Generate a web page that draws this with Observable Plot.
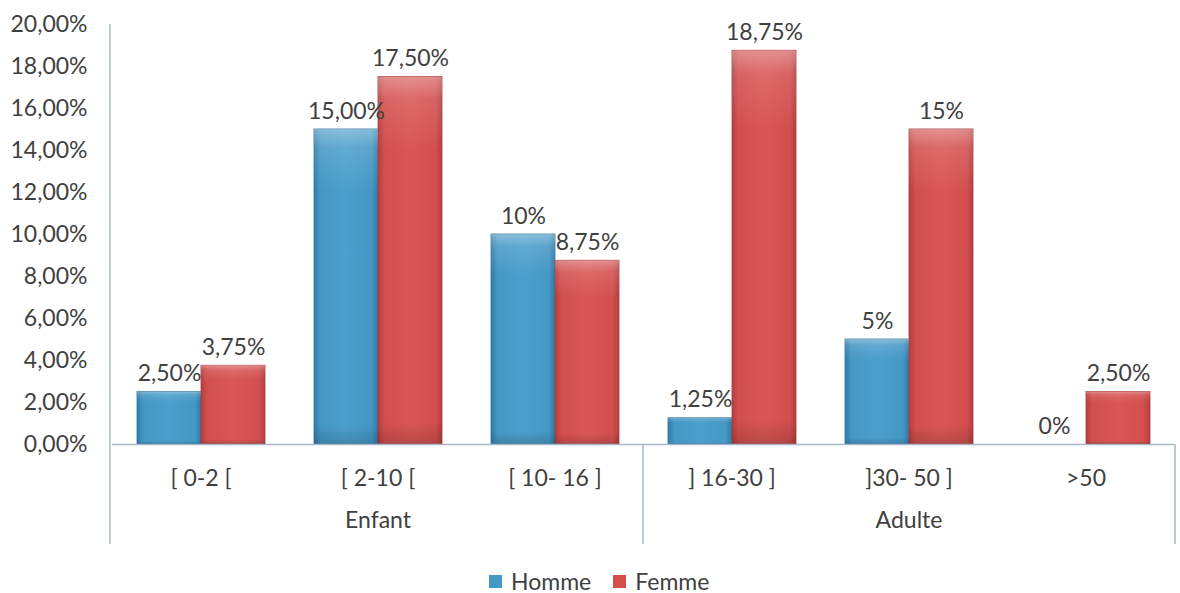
<!DOCTYPE html>
<html>
<head>
<meta charset="utf-8">
<script src="https://cdn.jsdelivr.net/npm/d3@7"></script>
<script src="https://cdn.jsdelivr.net/npm/@observablehq/plot@0.6"></script>
<style>
  body { margin: 0; background: #ffffff; }
  #wrap { position: relative; width: 1180px; height: 593px; font-family: Lato, "Open Sans", sans-serif; color: #3f3f3f; }
  #legend { position: absolute; left: 489px; top: 568px; font-size: 23px; line-height: 26px; display: flex; align-items: center; white-space: nowrap; }
  .sw { display: inline-block; width: 13px; height: 13px; margin-right: 9px; }
  .item { display: inline-flex; align-items: center; margin-right: 22px; }
</style>
</head>
<body>
<div id="wrap">
  <div id="chart"></div>
  <div id="legend"></div>
</div>
<script>
// Age classes, their age group, and share of cases (%) by sex
const categories = ["[ 0-2 [", "[ 2-10 [", "[ 10- 16 ]", "] 16-30 ]", "]30- 50 ]", ">50"];
const groups = ["Enfant", "Enfant", "Enfant", "Adulte", "Adulte", "Adulte"];
const series = ["Homme", "Femme"];
const homme = [2.5, 15, 10, 1.25, 5, 0];
const femme = [3.75, 17.5, 8.75, 18.75, 15, 2.5];
const hommeLabels = ["2,50%", "15,00%", "10%", "1,25%", "5%", "0%"];
const femmeLabels = ["3,75%", "17,50%", "8,75%", "18,75%", "15%", "2,50%"];
const yTicks = [0, 2, 4, 6, 8, 10, 12, 14, 16, 18, 20];

const colors = { Homme: "#4597c4", Femme: "#d24f4e" };

const rows = [];
categories.forEach((c, i) => {
  rows.push({ cat: c, sex: "Homme", value: homme[i], label: hommeLabels[i] });
  rows.push({ cat: c, sex: "Femme", value: femme[i], label: femmeLabels[i] });
});

// one label per age group, placed under the middle class of the group
const groupLabels = [...new Set(groups)].map(g => {
  const idx = groups.map((x, i) => x === g ? i : -1).filter(i => i >= 0);
  return { cat: categories[idx[Math.floor(idx.length / 2)]], text: g };
});

const fmt = v => v.toFixed(2).replace(".", ",") + "%";

const chart = Plot.plot({
  width: 1180,
  height: 560,
  marginLeft: 110,
  marginRight: 5,
  marginTop: 24,
  marginBottom: 116,
  style: { fontFamily: "Lato, 'Open Sans', sans-serif", fontSize: "23px", color: "#3f3f3f", background: "#ffffff" },
  fx: { domain: categories, padding: 0, axis: null },
  x: { domain: series, paddingInner: 0, paddingOuter: 0.365, axis: null },
  y: { domain: [0, 20], ticks: yTicks, tickFormat: fmt, tickSize: 0, tickPadding: 25, label: null },
  marks: [
    Plot.barY(rows.filter(d => d.sex === "Homme"), { fx: "cat", x: "sex", y: "value", fill: "url(#gradHomme)", stroke: "#2f759f", strokeWidth: 0.8 }),
    Plot.barY(rows.filter(d => d.sex === "Femme"), { fx: "cat", x: "sex", y: "value", fill: "url(#gradFemme)", stroke: "#a83a3a", strokeWidth: 0.8 }),
    Plot.barY(rows.filter(d => d.value > 0), { fx: "cat", x: "sex", y: "value", fill: "url(#gradShine)" }),
    Plot.ruleY([0], { stroke: "#a9b9c9", strokeWidth: 1.5 }),
    Plot.text(rows, { fx: "cat", x: "sex", y: "value", text: "label", lineAnchor: "bottom", dy: -11, fill: "#3f3f3f" }),
    Plot.text(categories, { fx: d => d, text: d => d, frameAnchor: "bottom", dy: 41, fill: "#3f3f3f" }),
    Plot.text(groupLabels, { fx: "cat", text: "text", frameAnchor: "bottom", dy: 83, fill: "#3f3f3f" })
  ]
});

document.getElementById("chart").appendChild(chart);

// bar gradients and the axis / group separator lines
const svg = d3.select(chart.tagName.toLowerCase() === "svg" ? chart : chart.querySelector("svg"));
const defs = svg.insert("defs", ":first-child");
function hGrad(id, edge, mid, center) {
  const g = defs.append("linearGradient").attr("id", id).attr("x1", 0).attr("x2", 1).attr("y1", 0).attr("y2", 0);
  [[0, edge], [0.1, mid], [0.5, center], [0.9, mid], [1, edge]].forEach(([o, c]) =>
    g.append("stop").attr("offset", o).attr("stop-color", c));
}
hGrad("gradHomme", "#2e7cab", "#4597c4", "#4c9fcc");
hGrad("gradFemme", "#b53f3f", "#d24f4e", "#d85756");
const shine = defs.append("linearGradient").attr("id", "gradShine").attr("x1", 0).attr("x2", 0).attr("y1", 0).attr("y2", 1);
[[0, "#ffffff", 0.35], [0.06, "#ffffff", 0.12], [0.2, "#ffffff", 0], [0.94, "#000000", 0], [1, "#000000", 0.15]].forEach(([o, c, a]) =>
  shine.append("stop").attr("offset", o).attr("stop-color", c).attr("stop-opacity", a));

const fxs = chart.scale("fx");
const ys = chart.scale("y");
const y0 = ys.apply(0);
const yTop = ys.apply(20);
const bottom = y0 + 100;
const left = 110;
const right = 1175;
const split = fxs.apply(categories[groups.indexOf("Adulte")]);
const lines = svg.append("g").attr("stroke", "#a9b9c9").attr("stroke-width", 1.5);
lines.append("line").attr("x1", left).attr("x2", left).attr("y1", yTop).attr("y2", bottom);
lines.append("line").attr("x1", split).attr("x2", split).attr("y1", y0).attr("y2", bottom);
lines.append("line").attr("x1", right).attr("x2", right).attr("y1", y0).attr("y2", bottom);

// legend
const legend = d3.select("#legend");
series.forEach(s => {
  const it = legend.append("span").attr("class", "item");
  it.append("span").attr("class", "sw").style("background", colors[s]);
  it.append("span").text(s);
});
</script>
</body>
</html>
